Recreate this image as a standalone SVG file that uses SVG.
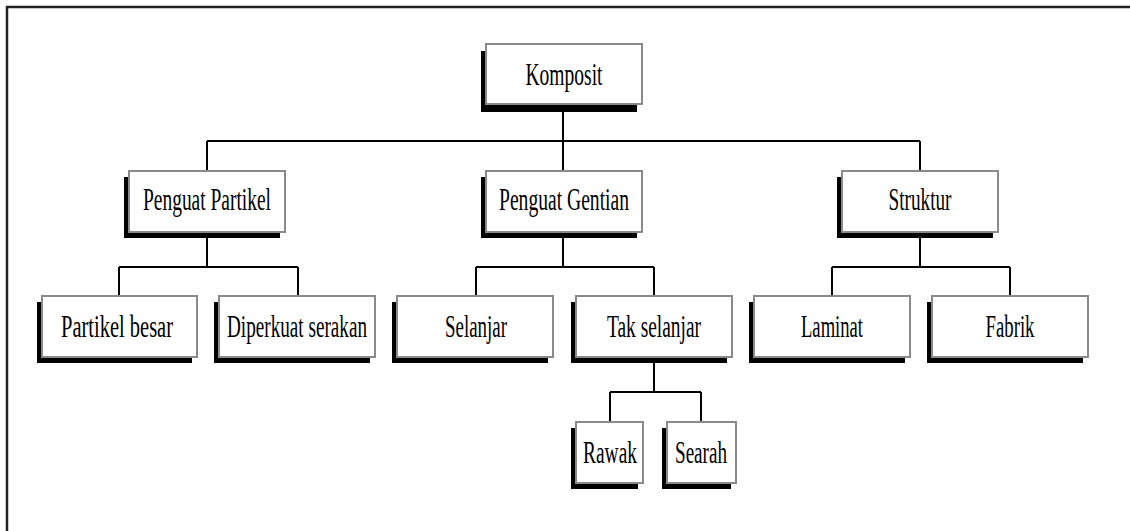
<svg xmlns="http://www.w3.org/2000/svg" width="1130" height="531" viewBox="0 0 1130 531">
<style>
.shadow{fill:#000}
.box{fill:#fff;stroke:#8a8a8a;stroke-width:2}
.lbl{font-family:"Liberation Serif","Times New Roman",serif;font-size:19px;fill:#000;text-anchor:middle}
.conn{fill:none;stroke:#000;stroke-width:2}
.frame{fill:none;stroke:#222;stroke-width:2.5}
</style>
<rect width="1130" height="531" fill="#fff"/>
<path class="frame" d="M7,531 V7 H1130"/>
<g id="connectors">
<path class="conn" d="M563,104 V141 M207,141 H920 M207,141 V171 M563,141 V171 M920,141 V171"/>
<path class="conn" d="M207,232 V267 M119,267 H298 M119,267 V296 M298,267 V296"/>
<path class="conn" d="M563,232 V267 M476,267 H654 M476,267 V296 M654,267 V296"/>
<path class="conn" d="M920,232 V267 M832,267 H1010 M832,267 V296 M1010,267 V296"/>
<path class="conn" d="M654,357 V392 M610,392 H701 M610,392 V422 M701,392 V422"/>
</g>
<g id="komposit">
<rect class="shadow" x="481" y="51" width="156" height="61"/>
<rect class="box" x="486" y="44" width="156" height="60"/>
<text class="lbl" transform="translate(564,85) scale(1,1.68)" textLength="77" lengthAdjust="spacingAndGlyphs">Komposit</text>
</g>
<g id="penguat-partikel">
<rect class="shadow" x="124" y="177" width="156" height="61"/>
<rect class="box" x="129" y="171" width="156" height="61"/>
<text class="lbl" transform="translate(207,210) scale(1,1.68)" textLength="128" lengthAdjust="spacingAndGlyphs">Penguat Partikel</text>
</g>
<g id="penguat-gentian">
<rect class="shadow" x="481" y="177" width="156" height="61"/>
<rect class="box" x="486" y="171" width="156" height="61"/>
<text class="lbl" transform="translate(564,210) scale(1,1.68)" textLength="130" lengthAdjust="spacingAndGlyphs">Penguat Gentian</text>
</g>
<g id="struktur">
<rect class="shadow" x="837" y="177" width="156" height="61"/>
<rect class="box" x="842" y="171" width="156" height="61"/>
<text class="lbl" transform="translate(920,210) scale(1,1.68)" textLength="63" lengthAdjust="spacingAndGlyphs">Struktur</text>
</g>
<g id="partikel-besar">
<rect class="shadow" x="37" y="302" width="155" height="61"/>
<rect class="box" x="42" y="296" width="155" height="61"/>
<text class="lbl" transform="translate(117,337) scale(1,1.68)" textLength="112" lengthAdjust="spacingAndGlyphs">Partikel besar</text>
</g>
<g id="diperkuat-serakan">
<rect class="shadow" x="214" y="302" width="156" height="61"/>
<rect class="box" x="219" y="296" width="156" height="61"/>
<text class="lbl" transform="translate(297,337) scale(1,1.68)" textLength="140" lengthAdjust="spacingAndGlyphs">Diperkuat serakan</text>
</g>
<g id="selanjar">
<rect class="shadow" x="392" y="302" width="156" height="61"/>
<rect class="box" x="397" y="296" width="156" height="61"/>
<text class="lbl" transform="translate(476,337) scale(1,1.68)" textLength="62" lengthAdjust="spacingAndGlyphs">Selanjar</text>
</g>
<g id="tak-selanjar">
<rect class="shadow" x="571" y="302" width="156" height="61"/>
<rect class="box" x="576" y="296" width="156" height="61"/>
<text class="lbl" transform="translate(654,337) scale(1,1.68)" textLength="94" lengthAdjust="spacingAndGlyphs">Tak selanjar</text>
</g>
<g id="laminat">
<rect class="shadow" x="749" y="302" width="156" height="61"/>
<rect class="box" x="754" y="296" width="156" height="61"/>
<text class="lbl" transform="translate(832,337) scale(1,1.68)" textLength="62" lengthAdjust="spacingAndGlyphs">Laminat</text>
</g>
<g id="fabrik">
<rect class="shadow" x="927" y="302" width="156" height="61"/>
<rect class="box" x="932" y="296" width="156" height="61"/>
<text class="lbl" transform="translate(1010,337) scale(1,1.68)" textLength="49" lengthAdjust="spacingAndGlyphs">Fabrik</text>
</g>
<g id="rawak">
<rect class="shadow" x="571" y="428" width="67" height="61"/>
<rect class="box" x="576" y="422" width="67" height="61"/>
<text class="lbl" transform="translate(610,463) scale(1,1.68)" textLength="54" lengthAdjust="spacingAndGlyphs">Rawak</text>
</g>
<g id="searah">
<rect class="shadow" x="662" y="428" width="69" height="61"/>
<rect class="box" x="667" y="422" width="69" height="61"/>
<text class="lbl" transform="translate(701,463) scale(1,1.68)" textLength="52" lengthAdjust="spacingAndGlyphs">Searah</text>
</g>
</svg>
